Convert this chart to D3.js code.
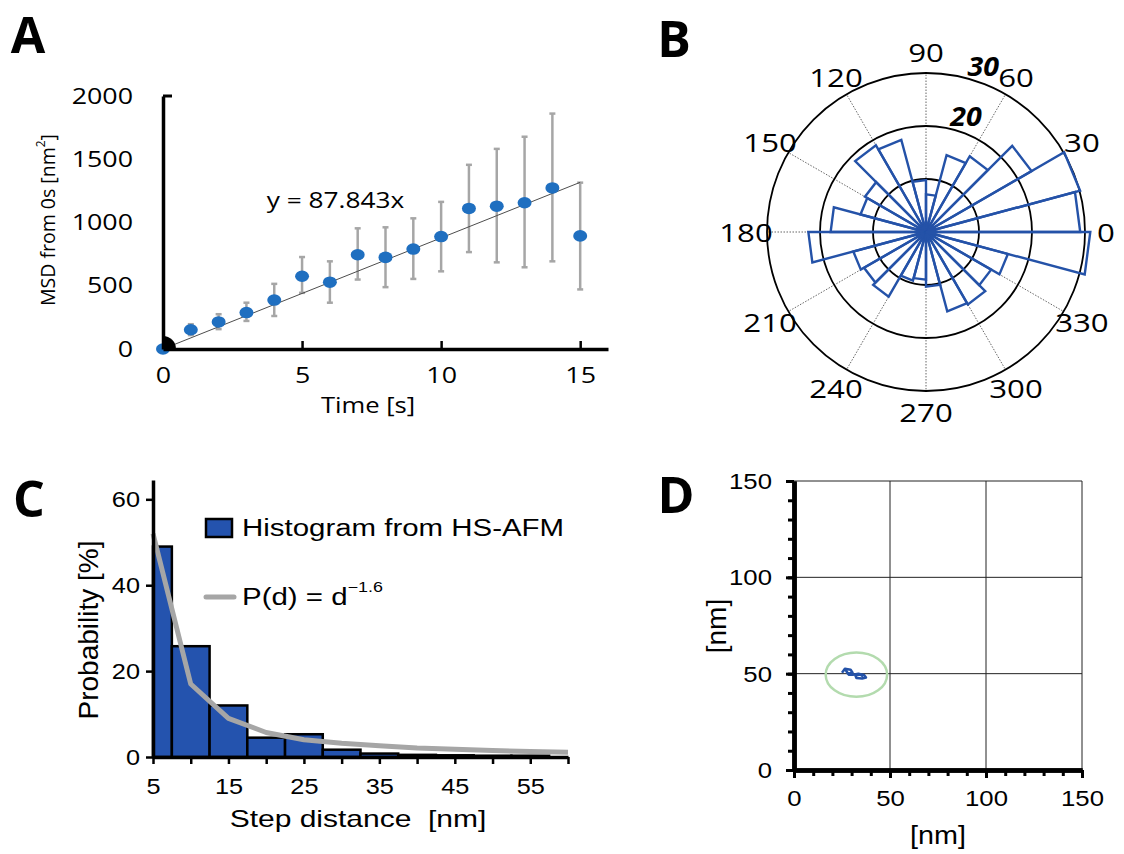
<!DOCTYPE html>
<html>
<head>
<meta charset="utf-8">
<script src="https://cdn.jsdelivr.net/npm/d3@7"></script>
<style>
  body { margin: 0; background: #fff; }
  svg { display: block; }
</style>
</head>
<body>
<svg id="fig" width="1124" height="854"></svg>
<script>
'use strict';

// ---------- data ----------
// A: mean square displacement
let timeS = [0, 1, 2, 3, 4, 5, 6, 7, 8, 9, 10, 11, 12, 13, 14, 15];
let msd = [0, 152, 214, 288, 387, 575, 528, 745, 724, 790, 889, 1111, 1129, 1156, 1273, 894];
let msdHi = [0, 196, 275, 366, 515, 727, 693, 954, 962, 1033, 1163, 1456, 1582, 1678, 1861, 1315];
let msdLo = [0, 110, 157, 222, 261, 444, 366, 549, 489, 554, 614, 766, 685, 646, 693, 471];
let fitSlope = 87.843;
let fitT = [0, 15];
let xTicksA = [0, 5, 10, 15];
let yTicksA = [0, 500, 1000, 1500, 2000];

// B: rose histogram of step directions (15 degree bins)
let roseBinStart = [0, 15, 30, 45, 60, 75, 90, 105, 120, 135, 150, 165,
    180, 195, 210, 225, 240, 255, 270, 285, 300, 315, 330, 345];
let roseCounts = [29.1, 30.1, 23.0, 16.5, 15.0, 7.1, 9.8, 18.0, 18.9, 13.3, 12.8, 18.0,
    22.2, 14.2, 13.5, 14.1, 9.5, 9.0, 10.3, 15.5, 15.8, 14.2, 16.0, 31.0];
let ringValues = [10, 20, 30];
let ringLabels = [20, 30];
let spokeAngles = [0, 30, 60, 90, 120, 150, 180, 210, 240, 270, 300, 330];

// C: step distance histogram and power law
let binCenters = [5, 10, 15, 20, 25, 30, 35, 40, 45, 50, 55];
let binProb = [49, 25.8, 12, 4.5, 5.3, 1.7, 0.8, 0.5, 0.4, 0.3, 0.3];
let fitD = [5, 10, 15, 20, 25, 30, 35, 40, 45, 50, 55, 60];
let fitP = [52, 17, 9, 5.7, 4.0, 3.2, 2.6, 2.1, 1.8, 1.5, 1.3, 1.1];
let xTicksC = [5, 10, 15, 20, 25, 30, 35, 40, 45, 50, 55, 60];
let yTicksC = [0, 20, 40, 60];

// D: trajectory
let trackX = [25, 26.5, 29.5, 30.5, 28, 27, 28.5, 31, 33.5, 36.5, 37.5, 35.5, 32.5, 32, 34.5, 36];
let trackY = [50.5, 52.5, 52, 50.5, 50, 51.8, 49.5, 49.5, 50, 49.3, 48, 47.5, 47.8, 49, 49.6, 48.6];
let zoneCenter = [32.5, 49.5];
let zoneRadius = [16, 11.5];
let majorD = [0, 50, 100, 150];
let minorD = [0, 10, 20, 30, 40, 50, 60, 70, 80, 90, 100, 110, 120, 130, 140, 150];

// ---------- helpers ----------
let SANS_A = '"Open Sans", "DejaVu Sans", sans-serif';
let SANS_C = '"Liberation Sans", Arial, sans-serif';
let svg = d3.select('#fig');

function addText(parent, str, x, y, o) {
    o = o || {};
    let tr = 'translate(' + x + ',' + y + ') scale(' + (o.sx || 1) + ',1)';
    if (o.rotate) {
        tr += ' rotate(' + o.rotate + ')';
    }
    return parent.append('text')
        .attr('transform', tr)
        .attr('font-family', o.family || SANS_A)
        .attr('font-size', o.size || 21)
        .attr('font-weight', o.weight || 'normal')
        .attr('font-style', o.style || 'normal')
        .attr('text-anchor', o.anchor || 'middle')
        .attr('dominant-baseline', 'central')
        .attr('fill', '#000')
        .text(str);
}

// axis look: thick domain, font, horizontally widened labels
function styleAxis(g, family, size, sx, width, tickWidth) {
    g.select('.domain').attr('stroke', '#000').attr('stroke-width', width);
    g.selectAll('.tick line').attr('stroke', '#000').attr('stroke-width', tickWidth || 2.5);
    g.selectAll('.tick text')
        .attr('font-family', family)
        .attr('font-size', size)
        .attr('fill', '#000')
        .each(function() {
            let t = d3.select(this);
            let x = +t.attr('x') || 0,
                y = +t.attr('y') || 0;
            t.attr('x', null).attr('y', null)
                .attr('transform', 'translate(' + x + ',' + y + ') scale(' + sx + ',1)');
        });
}

// ---------- panel A ----------
let xA = d3.scaleLinear().domain([0, 16]).range([163, 608]);
let yA = d3.scaleLinear().domain([0, 2000]).range([349, 96]);
let gA = svg.append('g');

gA.append('defs').append('clipPath').attr('id', 'clipA')
    .append('rect')
    .attr('x', xA(0)).attr('y', yA(2000))
    .attr('width', xA(16) - xA(0)).attr('height', yA(0) - yA(2000));

// error bars
let errA = gA.append('g').attr('stroke', '#a6a6a6').attr('stroke-width', 2.5);
timeS.forEach(function(t, i) {
    if (msdHi[i] === msdLo[i]) return;
    errA.append('line')
        .attr('x1', xA(t)).attr('x2', xA(t))
        .attr('y1', yA(msdLo[i])).attr('y2', yA(msdHi[i]));
    [msdLo[i], msdHi[i]].forEach(function(v) {
        errA.append('line')
            .attr('x1', xA(t) - 3).attr('x2', xA(t) + 3)
            .attr('y1', yA(v)).attr('y2', yA(v));
    });
});

// linear fit
gA.append('path')
    .datum(fitT)
    .attr('fill', 'none')
    .attr('stroke', '#4d4d4d')
    .attr('stroke-width', 1)
    .attr('d', d3.line().x(function(d) { return xA(d); }).y(function(d) { return yA(fitSlope * d); }));

// points
gA.append('g').selectAll('ellipse')
    .data(timeS)
    .enter().append('ellipse')
    .attr('cx', function(d) { return xA(d); })
    .attr('cy', function(d, i) { return yA(msd[i]); })
    .attr('rx', 7)
    .attr('ry', 5.8)
    .attr('fill', '#1f6fc0');

// black marker at origin, clipped to the plot area
gA.append('circle')
    .attr('clip-path', 'url(#clipA)')
    .attr('cx', xA(0)).attr('cy', yA(0)).attr('r', 13)
    .attr('fill', '#000');

gA.append('g')
    .attr('transform', 'translate(0,' + yA(0) + ')')
    .call(d3.axisBottom(xA).tickValues(xTicksA).tickSizeInner(-8).tickSizeOuter(0).tickPadding(18))
    .call(styleAxis, SANS_A, 22, 1.22, 3.5);

gA.append('g')
    .attr('transform', 'translate(' + xA(0) + ',0)')
    .call(d3.axisLeft(yA).tickValues(yTicksA).tickSize(0).tickPadding(30).tickFormat(d3.format('d')))
    .call(styleAxis, SANS_A, 22, 1.22, 3.5);

gA.append('line')
    .attr('x1', xA(0)).attr('x2', xA(0) + 9)
    .attr('y1', yA(2000)).attr('y2', yA(2000))
    .attr('stroke', '#000').attr('stroke-width', 3);

addText(gA, 'y = 87.843x', xA(6.2), yA(1180), {size: 21, sx: 1.25});
addText(gA, 'Time [s]', 368, 405, {size: 21, sx: 1.22});
let yLabA = addText(gA, 'MSD from 0s [nm', 47, 220, {size: 19.5, rotate: -90});
yLabA.append('tspan').attr('font-size', 12).attr('dy', -7).text('2');
yLabA.append('tspan').attr('dy', 7).text(']');

addText(svg, 'A', 28, 34, {size: 50, weight: 'bold'});

// ---------- panel B ----------
let cxB = 926,
    cyB = 232;
let rB = d3.scaleLinear().domain([0, 30]).range([0, 159]);
let gB = svg.append('g').attr('transform', 'translate(' + cxB + ',' + cyB + ')');

function polarXY(deg, r) {
    let a = deg * Math.PI / 180;
    return [r * Math.cos(a), -r * Math.sin(a)];
}

gB.append('g').selectAll('line')
    .data(spokeAngles)
    .enter().append('line')
    .attr('x1', 0).attr('y1', 0)
    .attr('x2', function(d) { return polarXY(d, rB(30))[0]; })
    .attr('y2', function(d) { return polarXY(d, rB(30))[1]; })
    .attr('stroke', '#666')
    .attr('stroke-width', 1)
    .attr('stroke-dasharray', '1.5,1.5');

gB.append('g').selectAll('circle')
    .data(ringValues)
    .enter().append('circle')
    .attr('r', function(d) { return rB(d); })
    .attr('fill', 'none')
    .attr('stroke', '#000')
    .attr('stroke-width', 1.8);

gB.append('g').selectAll('path')
    .data(roseBinStart)
    .enter().append('path')
    .attr('d', function(d, i) {
        let p0 = polarXY(d, rB(roseCounts[i])),
            p1 = polarXY(d + 15, rB(roseCounts[i]));
        return 'M0,0L' + p0 + 'L' + p1 + 'Z';
    })
    .attr('fill', 'none')
    .attr('stroke', '#2452a8')
    .attr('stroke-width', 2.4)
    .attr('stroke-linejoin', 'miter');

spokeAngles.forEach(function(a) {
    let p = polarXY(a, 180);
    addText(gB, String(a), p[0], p[1], {size: 26, sx: 1.2});
});
ringLabels.forEach(function(v) {
    let p = polarXY(71, rB(v) + 17);
    addText(gB, String(v), p[0], p[1], {size: 26, sx: 1.1, weight: 'bold', style: 'italic'});
});

addText(svg, 'B', 674, 38, {size: 50, weight: 'bold'});

// ---------- panel C ----------
let xC = d3.scaleLinear().domain([5, 60]).range([153, 568]);
let yC = d3.scaleLinear().domain([0, 64.5]).range([757, 480]);
let gC = svg.append('g');

gC.append('g').selectAll('rect')
    .data(binCenters)
    .enter().append('rect')
    .attr('x', function(d) { return xC(Math.max(d - 2.5, 5)); })
    .attr('width', function(d) { return xC(d + 2.5) - xC(Math.max(d - 2.5, 5)); })
    .attr('y', function(d, i) { return yC(binProb[i]); })
    .attr('height', function(d, i) { return yC(0) - yC(binProb[i]); })
    .attr('fill', '#2453ae')
    .attr('stroke', '#000')
    .attr('stroke-width', 2.5);

gC.append('path')
    .datum(fitD)
    .attr('fill', 'none')
    .attr('stroke', '#a6a6a6')
    .attr('stroke-width', 5)
    .attr('stroke-linejoin', 'round')
    .attr('d', d3.line()
        .x(function(d) { return xC(d); })
        .y(function(d, i) { return yC(fitP[i]); }));

gC.append('g')
    .attr('transform', 'translate(0,' + yC(0) + ')')
    .call(d3.axisBottom(xC).tickValues(xTicksC).tickSizeInner(7).tickSizeOuter(0).tickPadding(14)
        .tickFormat(function(d) { return (d - 5) % 10 === 0 ? d : ''; }))
    .call(styleAxis, SANS_C, 22, 1.15, 3.5);

gC.append('g')
    .attr('transform', 'translate(' + xC(5) + ',0)')
    .call(d3.axisLeft(yC).tickValues(yTicksC).tickSizeInner(7).tickSizeOuter(0).tickPadding(6))
    .call(styleAxis, SANS_C, 22, 1.15, 3.5);

// legend
gC.append('rect')
    .attr('x', 206).attr('y', 519).attr('width', 26).attr('height', 18)
    .attr('fill', '#2453ae').attr('stroke', '#000').attr('stroke-width', 2.5);
addText(gC, 'Histogram from HS-AFM', 242, 528, {size: 23, sx: 1.28, family: SANS_C, anchor: 'start'});
gC.append('line')
    .attr('x1', 206).attr('x2', 234).attr('y1', 597).attr('y2', 597)
    .attr('stroke', '#a6a6a6').attr('stroke-width', 5).attr('stroke-linecap', 'round');
let legP = addText(gC, 'P(d) = d', 242, 597, {size: 23, sx: 1.28, family: SANS_C, anchor: 'start'});
legP.append('tspan').attr('font-size', 14).attr('dy', -10).text('\u22121.6');

addText(gC, 'Step distance\u00a0 [nm]', 358, 819, {size: 24, sx: 1.25, family: SANS_C});
addText(gC, 'Probability [%]', 88, 630, {size: 28, rotate: -90, family: SANS_C});

addText(svg, 'C', 29, 498, {size: 50, weight: 'bold'});

// ---------- panel D ----------
let xD = d3.scaleLinear().domain([0, 150]).range([794, 1082]);
let yD = d3.scaleLinear().domain([0, 150]).range([770, 481]);
let gD = svg.append('g');

let gridD = gD.append('g').attr('stroke', '#222').attr('stroke-width', 1);
majorD.slice(1).forEach(function(v) {
    gridD.append('line')
        .attr('x1', xD(v)).attr('x2', xD(v)).attr('y1', yD(0)).attr('y2', yD(150));
    gridD.append('line')
        .attr('x1', xD(0)).attr('x2', xD(150)).attr('y1', yD(v)).attr('y2', yD(v));
});

gD.append('ellipse')
    .attr('cx', xD(zoneCenter[0])).attr('cy', yD(zoneCenter[1]))
    .attr('rx', xD(zoneRadius[0]) - xD(0)).attr('ry', yD(0) - yD(zoneRadius[1]))
    .attr('fill', 'none').attr('stroke', '#b3dbae').attr('stroke-width', 2.5);

gD.append('path')
    .datum(trackX)
    .attr('fill', 'none')
    .attr('stroke', '#2452a8')
    .attr('stroke-width', 2.5)
    .attr('stroke-linejoin', 'round')
    .attr('d', d3.line()
        .x(function(d) { return xD(d); })
        .y(function(d, i) { return yD(trackY[i]); }));

// minor ticks, then labelled major axes
gD.append('g')
    .attr('transform', 'translate(0,' + yD(0) + ')')
    .call(d3.axisBottom(xD).tickValues(minorD).tickSizeInner(6).tickSizeOuter(0).tickFormat(''))
    .call(styleAxis, SANS_C, 23, 1.12, 4.5, 3);
gD.append('g')
    .attr('transform', 'translate(' + xD(0) + ',0)')
    .call(d3.axisLeft(yD).tickValues(minorD).tickSizeInner(6).tickSizeOuter(0).tickFormat(''))
    .call(styleAxis, SANS_C, 23, 1.12, 4.5, 3);
gD.append('g')
    .attr('transform', 'translate(0,' + yD(0) + ')')
    .call(d3.axisBottom(xD).tickValues(majorD).tickSizeInner(8).tickSizeOuter(0).tickPadding(12))
    .call(styleAxis, SANS_C, 23, 1.12, 4.5, 3);
gD.append('g')
    .attr('transform', 'translate(' + xD(0) + ',0)')
    .call(d3.axisLeft(yD).tickValues(majorD).tickSizeInner(8).tickSizeOuter(0).tickPadding(14))
    .call(styleAxis, SANS_C, 23, 1.12, 4.5, 3);

addText(gD, '[nm]', 938, 836, {size: 25, sx: 1.15, family: SANS_C});
addText(gD, '[nm]', 716, 626, {size: 28, rotate: -90, family: SANS_C});

addText(svg, 'D', 676, 494, {size: 50, weight: 'bold'});
</script>
</body>
</html>
